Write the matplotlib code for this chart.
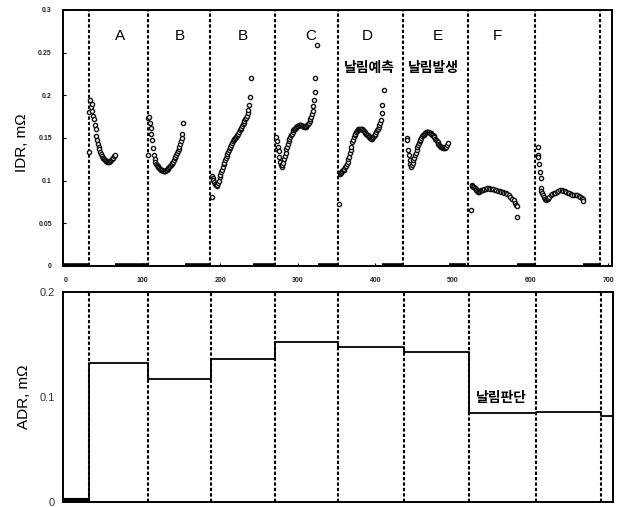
import matplotlib
matplotlib.use("Agg")
import matplotlib.pyplot as plt
import numpy as np

plt.rcParams['font.family'] = ['Liberation Sans', 'Noto Sans CJK KR', 'DejaVu Sans']

# ---------------- data ----------------
seg_A = [(31,0.134),(31,0.180),(32,0.194),(33,0.186),(34,0.190),(35,0.182),(36,0.176),(37,0.172),
         (38,0.165),(39,0.160),(40,0.152),(41,0.148),(42,0.143),(43,0.140),(44,0.137),(45,0.134),
         (46,0.131),(47,0.129),(48,0.127),(49,0.126),(50,0.125),(51,0.124),(52,0.123),(53,0.123),
         (54,0.122),(55,0.122),(56,0.122),(57,0.123),(58,0.123),(59,0.124),(60,0.125),(61,0.126),
         (62,0.127),(63,0.129),(64,0.130)]
seg_B1 = [(107,0.130),(107,0.173),(108,0.175),(109,0.168),(110,0.162),(111,0.155),(112,0.148),
          (113,0.138),(114,0.130),(115,0.125),(116,0.122),(117,0.120),(118,0.118),(119,0.117),
          (120,0.116),(121,0.115),(122,0.114),(123,0.113),(124,0.112),(125,0.112),(126,0.111),
          (127,0.111),(128,0.111),(129,0.111),(130,0.112),(131,0.113),(132,0.114),(133,0.115),
          (134,0.116),(135,0.117),(136,0.118),(137,0.120),(138,0.121),(139,0.122),(140,0.124),
          (141,0.126),(142,0.128),(143,0.130),(144,0.132),(145,0.135),(146,0.137),(147,0.140),
          (148,0.143),(149,0.146),(150,0.150),(151,0.155),(152,0.167)]
seg_B2 = [(189,0.081),(189,0.105),(190,0.103),(191,0.101),(192,0.098),(193,0.096),(194,0.095),
          (195,0.094),(196,0.095),(197,0.097),(198,0.100),(199,0.104),(200,0.107),(201,0.110),
          (202,0.113),(203,0.116),(204,0.119),(205,0.121),(206,0.124),(207,0.127),(208,0.129),
          (209,0.131),(210,0.134),(211,0.136),(212,0.138),(213,0.140),(214,0.142),(215,0.144),
          (216,0.146),(217,0.148),(218,0.149),(219,0.150),(220,0.151),(221,0.152),(222,0.153),
          (223,0.155),(224,0.157),(225,0.159),(226,0.160),(227,0.162),(228,0.164),(229,0.166),
          (230,0.168),(231,0.170),(232,0.172),(233,0.174),(234,0.176),(235,0.179),(236,0.183),
          (237,0.189),(238,0.198),(239,0.220)]
seg_C = [(272,0.151),(273,0.146),(273,0.137),(274,0.140),(275,0.135),(276,0.128),(277,0.122),
         (278,0.118),(279,0.116),(280,0.118),(281,0.121),(282,0.125),(283,0.129),(284,0.133),
         (285,0.137),(286,0.140),(287,0.143),(288,0.146),(289,0.149),(290,0.151),(291,0.153),
         (292,0.155),(293,0.157),(294,0.159),(295,0.160),(296,0.161),(297,0.162),(298,0.163),
         (299,0.164),(300,0.164),(301,0.165),(302,0.165),(303,0.165),(304,0.165),(305,0.164),
         (306,0.164),(307,0.164),(308,0.163),(309,0.163),(310,0.163),(311,0.164),(312,0.165),
         (313,0.166),(314,0.168),(315,0.170),(316,0.172),(317,0.175),(318,0.178),(319,0.182),
         (320,0.188),(321,0.194),(321.5,0.204),(322,0.220),(324,0.259)]
seg_D = [(353,0.073),(354,0.108),(355,0.109),(356,0.110),(357,0.111),(358,0.112),(359,0.113),
         (360,0.114),(361,0.116),(362,0.117),(363,0.119),(364,0.122),(365,0.125),(366,0.128),
         (367,0.132),(368,0.136),(369,0.140),(370,0.145),(371,0.148),(372,0.151),(373,0.153),
         (374,0.155),(375,0.157),(376,0.158),(377,0.159),(378,0.160),(379,0.161),(380,0.161),
         (381,0.161),(382,0.160),(383,0.160),(384,0.159),(385,0.158),(386,0.157),(387,0.156),
         (388,0.155),(389,0.154),(390,0.153),(391,0.152),(392,0.151),(393,0.150),(394,0.149),
         (395,0.149),(396,0.150),(397,0.151),(398,0.152),(399,0.153),(400,0.155),(401,0.157),
         (402,0.159),(403,0.161),(404,0.163),(405,0.165),(406,0.168),(407,0.171),(408,0.179),
         (409,0.189),(411,0.206)]
seg_E = [(440,0.150),(441,0.148),(442,0.136),(443,0.130),(444,0.124),(445,0.119),(446,0.116),
         (447,0.118),(448,0.121),(449,0.124),(450,0.127),(451,0.130),(452,0.133),(453,0.136),
         (454,0.139),(455,0.142),(456,0.144),(457,0.146),(458,0.148),(459,0.150),(460,0.152),
         (461,0.153),(462,0.154),(463,0.155),(464,0.156),(465,0.157),(466,0.157),(467,0.157),
         (468,0.157),(469,0.157),(470,0.156),(471,0.156),(472,0.155),(473,0.154),(474,0.153),
         (475,0.152),(476,0.151),(477,0.149),(478,0.148),(479,0.146),(480,0.145),(481,0.143),
         (482,0.142),(483,0.141),(484,0.140),(485,0.139),(486,0.139),(487,0.138),(488,0.138),
         (489,0.138),(490,0.139),(491,0.140),(492,0.142),(493,0.144)]
seg_F = [(523,0.066),(524,0.095),(525,0.094),(526,0.093),(527,0.092),(528,0.091),(529,0.090),
         (530,0.089),(531,0.088),(532,0.087),(533,0.087),(534,0.088),(535,0.088),(536,0.089),
         (537,0.089),(538,0.089),(540,0.090),(542,0.090),(544,0.091),(546,0.091),(548,0.090),
         (550,0.090),(552,0.090),(554,0.089),(556,0.089),(558,0.088),(560,0.088),(562,0.087),
         (564,0.087),(566,0.086),(568,0.085),(570,0.084),(572,0.083),(574,0.081),(576,0.079),
         (578,0.077),(580,0.074),(581,0.072),(582,0.070),(583,0.058)]
seg_G = [(609,0.140),(609,0.130),(610,0.128),(611,0.120),(612,0.110),(613,0.103),(613,0.091),
         (614,0.088),(615,0.085),(616,0.083),(617,0.081),(618,0.079),(619,0.078),(620,0.077),
         (621,0.078),(622,0.079),(623,0.080),(624,0.081),(626,0.083),(628,0.084),(630,0.085),
         (632,0.086),(634,0.087),(636,0.088),(638,0.089),(640,0.089),(642,0.088),(644,0.088),
         (646,0.087),(648,0.086),(650,0.085),(652,0.084),(654,0.083),(656,0.083),(658,0.083),
         (660,0.083),(662,0.082),(664,0.081),(666,0.080),(667,0.078),(668,0.076)]

# zero-valued stretches (x start, x end) in the IDR record
zero_spans = [(-2, 30), (64, 106), (154, 187), (242, 270), (326, 351),
              (409, 435), (495, 517), (582, 605), (667, 689)]

# event boundaries (dashed lines)
boundaries = [31, 107, 187, 270, 351, 436, 519, 606, 689]

# ADR step levels
adr_edges = [-3, 31, 107, 187, 270, 351, 436, 519, 606, 689, 706]
adr_levels = [0.0, 0.132, 0.117, 0.136, 0.152, 0.148, 0.143, 0.085, 0.086, 0.082]

seg_labels = ['A', 'B', 'B', 'C', 'D', 'E', 'F']
seg_label_x = [71, 148, 229, 317, 390, 480, 557]

x_ticks = [0, 100, 200, 300, 400, 500, 600, 700]
idr_ticks = [0, 0.05, 0.1, 0.15, 0.2, 0.25, 0.3]
idr_tick_labels = ['0', '0.05', '0.1', '0.15', '0.2', '0.25', '0.3']
adr_ticks = [0, 0.1, 0.2]
adr_tick_labels = ['0', '0.1', '0.2']

# ---------------- figure ----------------
W, H = 623, 507
fig = plt.figure(figsize=(W/100, H/100), dpi=100)
ax1 = fig.add_axes([63/W, 1-266/H, (612-63)/W, (266-10)/H])
ax2 = fig.add_axes([63/W, 1-502/H, (613-63)/W, (502-292)/H])

xlim = (-3, 705)

for seg in [seg_A, seg_B1, seg_B2, seg_C, seg_D, seg_E, seg_F, seg_G]:
    xs = [p[0] for p in seg]
    ys = [p[1] for p in seg]
    ax1.plot(xs, ys, linestyle='none', marker='o', markersize=3.0,
             markerfacecolor='white', markeredgecolor='#111111', markeredgewidth=1.0)

for a, b in zero_spans:
    ax1.hlines(0.0015, a, b, colors='black', linewidth=2.6)

for ax in (ax1, ax2):
    for bx in boundaries:
        ax.axvline(bx, color='black', linestyle=(0, (1.6, 1.0)), linewidth=1.5, zorder=1)
    for s in ax.spines.values():
        s.set_linewidth(1.4)
    ax.set_xlim(*xlim)

ax1.set_ylim(0, 0.3)
ax1.set_xticks(x_ticks)
ax1.set_xticklabels([str(t) for t in x_ticks], fontsize=5, fontweight='bold', color='#222222')
ax1.set_yticks(idr_ticks)
ax1.set_yticklabels(idr_tick_labels, fontsize=5, fontweight='bold', color='#222222')
ax1.tick_params(direction='in', length=2, width=0.8)
ax1.tick_params(axis='y', pad=8)
ax1.tick_params(axis='x', pad=8)
ax1.set_ylabel('IDR, mΩ', fontsize=11)
ax1.yaxis.set_label_coords(-0.062, 0.48)

for lab, lx in zip(seg_labels, seg_label_x):
    ax1.text(lx, 0.270, lab, fontsize=11, ha='center', va='center')
ax1.text(392, 0.232, '날림예측', fontsize=10, fontweight='bold', ha='center', va='center')
ax1.text(474, 0.232, '날림발생', fontsize=10, fontweight='bold', ha='center', va='center',
         bbox=dict(facecolor='white', edgecolor='none', pad=0.5))

ax2.step(adr_edges, adr_levels + [adr_levels[-1]], where='post', color='black', linewidth=1.3, zorder=3)
ax2.hlines(0.0015, adr_edges[0], adr_edges[1], colors='black', linewidth=3, zorder=3)
ax2.set_ylim(0, 0.2)
ax2.set_xticks([])
ax2.set_yticks(adr_ticks)
ax2.set_yticklabels(adr_tick_labels, fontsize=8, color='#333333')
ax2.tick_params(axis='y', length=0, pad=6)
ax2.set_ylabel('ADR, mΩ', fontsize=11)
ax2.yaxis.set_label_coords(-0.058, 0.5)
ax2.text(561, 0.099, '날림판단', fontsize=10, fontweight='bold', ha='center', va='center',
         bbox=dict(facecolor='white', edgecolor='none', pad=0.5), zorder=4)

fig.savefig('out.png', dpi=100)
